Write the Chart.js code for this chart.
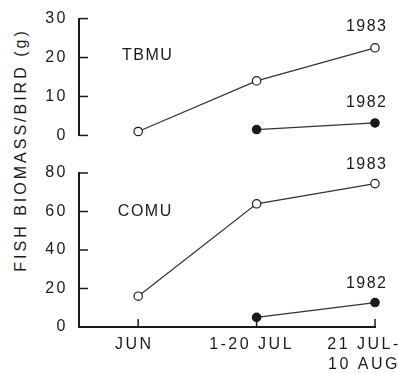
<!DOCTYPE html>
<html>
<head>
<meta charset="utf-8">
<script src="https://cdn.jsdelivr.net/npm/chart.js@4.4.1/dist/chart.umd.min.js"></script>
<style>
  html, body { margin: 0; padding: 0; background: #fff; }
  #wrap { position: relative; width: 398px; height: 374px; overflow: hidden; }
  canvas { position: absolute; left: 0; }
  #top { top: -2px; }
  #bottom { top: 150px; }
  #ytitle {
    position: absolute; left: 22px; top: 150px; width: 280px; height: 20px;
    margin-left: -140px; margin-top: -10px; line-height: 20px; text-align: center;
    transform: rotate(-90deg); white-space: nowrap;
    font: 16px 'Liberation Sans', Arial, sans-serif; letter-spacing: 3px; color: #1a1a1a;
  }
</style>
</head>
<body>
<div id="wrap">
  <div id="ytitle">FISH BIOMASS/BIRD (g)</div>
  <canvas id="top" width="398" height="158"></canvas>
  <canvas id="bottom" width="398" height="224"></canvas>
</div>
<script>
// sampling periods (x axis)
const categories = [['JUN'], ['1-20 JUL'], ['21 JUL-', '10 AUG']];

// TBMU, g per bird
const tbmu1983 = [1, 14, 22.5];
const tbmu1982 = [null, 1.5, 3.2];

// COMU, g per bird
const comu1983 = [16, 64, 74.5];
const comu1982 = [null, 5, 12.7];

const tbmuTicks = [0, 10, 20, 30];
const comuTicks = [0, 20, 40, 60, 80];

const ink = '#1a1a1a';
const font = '16px "Liberation Sans", Arial, sans-serif';
const labelShift = [-4, -5, -11];

// inside tick marks, axis labels and text notes
const paperPlugin = {
  id: 'paper',
  beforeDraw(chart) {
    chart.ctx.letterSpacing = '2.5px';
  },
  afterDraw(chart, args, opts) {
    const ctx = chart.ctx;
    const x = chart.scales.x, y = chart.scales.y;
    const { left, bottom } = chart.chartArea;
    ctx.save();
    ctx.strokeStyle = ink;
    ctx.lineWidth = 1.5;
    y.ticks.forEach(t => {
      const py = y.getPixelForValue(t.value);
      ctx.beginPath();
      ctx.moveTo(left, py);
      ctx.lineTo(left + 9, py);
      ctx.stroke();
    });
    ctx.fillStyle = ink;
    ctx.font = font;
    ctx.textAlign = 'center';
    ctx.textBaseline = 'middle';
    if (opts.xLabels) {
      categories.forEach((lines, i) => {
        const px = x.getPixelForValue(i);
        ctx.beginPath();
        ctx.moveTo(px, bottom);
        ctx.lineTo(px, bottom - 8);
        ctx.stroke();
        lines.forEach((s, k) => ctx.fillText(s, px + labelShift[i], bottom + 18 + k * 19.5));
      });
    }
    ctx.letterSpacing = '1.5px';
    (opts.notes || []).forEach(n => {
      ctx.fillText(n.text, x.getPixelForValue(n.x), y.getPixelForValue(n.y));
    });
    ctx.restore();
  }
};

function series(values, filled) {
  return {
    data: values.map((v, i) => ({ x: i, y: v })),
    borderColor: '#333',
    borderWidth: 1.2,
    pointRadius: 4.2,
    pointBorderWidth: 1.2,
    pointBorderColor: ink,
    pointBackgroundColor: filled ? ink : '#fff',
    clip: false
  };
}

function makePanel(id, datasets, ticks, padTop, showX, notes) {
  return new Chart(document.getElementById(id), {
    type: 'line',
    data: { datasets },
    plugins: [paperPlugin],
    options: {
      responsive: false,
      animation: false,
      events: [],
      layout: { padding: { top: padTop, right: 23, bottom: 0, left: 0 } },
      scales: {
        x: {
          type: 'linear', min: -0.5, max: 2,
          display: showX,
          ticks: { display: false },
          grid: { display: false, drawTicks: false },
          border: { display: true, color: ink, width: 2 },
          afterFit(s) { s.height = showX ? 47 : 0; }
        },
        y: {
          min: ticks[0], max: ticks[ticks.length - 1],
          afterBuildTicks(s) { s.ticks = ticks.map(v => ({ value: v })); },
          ticks: { autoSkip: false, padding: 11, color: ink, font: { family: 'Liberation Sans', size: 16 } },
          grid: { display: false, drawTicks: false },
          border: { display: true, color: ink, width: 2 },
          afterFit(s) { s.width = 79; }
        }
      },
      plugins: {
        legend: { display: false },
        tooltip: { enabled: false },
        paper: { xLabels: showX, notes }
      }
    }
  });
}

makePanel('top', [series(tbmu1983, false), series(tbmu1982, true)], tbmuTicks, 0, false, [
  { text: '1983', x: 1.93, y: 28 },
  { text: '1982', x: 1.93, y: 8.5 },
  { text: 'TBMU', x: 0.08, y: 20.5 }
]);

makePanel('bottom', [series(comu1983, false), series(comu1982, true)], comuTicks, 23, true, [
  { text: '1983', x: 1.93, y: 84.5 },
  { text: '1982', x: 1.93, y: 22.8 },
  { text: 'COMU', x: 0.06, y: 60 }
]);
</script>
</body>
</html>
